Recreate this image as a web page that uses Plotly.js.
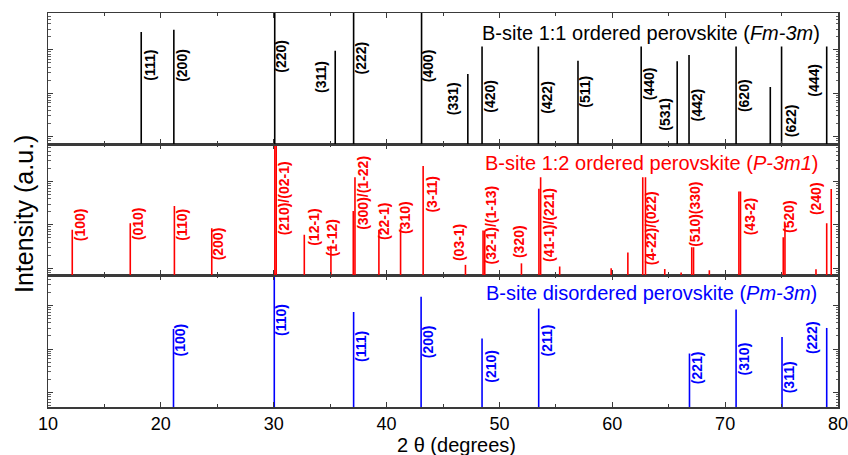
<!DOCTYPE html>
<html><head><meta charset="utf-8">
<script src="https://cdn.plot.ly/plotly-3.0.1.min.js"></script>
<style>html,body{margin:0;padding:0;background:#fff}#chart{width:848px;height:455px}</style>
</head><body><div id="chart"></div>
<script>
// ---------- DATA ----------
// Top panel: B-site 1:1 ordered perovskite (Fm-3m)
const fccPos    = [18.26, 21.15, 30.09, 35.45, 37.08, 43.10, 47.20, 48.46, 53.45, 56.96, 62.56, 65.75, 66.80, 70.97, 74.00, 75.00, 79.00];
const fccInt    = [257, 290, 1000, 95, 1000, 1000, 28, 120, 120, 56, 120, 55, 76, 120, 14, 120, 120];
const fccLabels = ['(111)','(200)','(220)','(311)','(222)','(400)','(331)','(420)','(422)','(511)','(440)','(531)','(442)','(620)','','(622)','(444)'];

// Middle panel: B-site 1:2 ordered perovskite (P-3m1)
const hexPos    = [12.15, 17.29, 21.20, 24.51, 30.10, 30.22, 32.71, 35.07, 37.05, 37.20, 39.32, 41.24, 43.24, 46.99, 48.55, 48.70, 51.95, 53.50, 53.65, 55.34, 59.90, 61.38, 62.70, 62.94, 64.65, 66.10, 67.04, 67.20, 68.60, 71.22, 71.36, 75.15, 75.30, 78.05, 79.00, 79.40];
const hexInt    = [7.7, 11, 27.5, 8.4, 1000, 1000, 5.9, 3.3, 21, 126, 7.7, 8.4, 230, 1.2, 7.4, 7.4, 1.3, 68, 126, 1.1, 1.0, 2.3, 126, 126, 0.96, 0.8, 3.05, 3.05, 0.9, 59, 59, 5.2, 11, 0.95, 11, 67];
const hexLabels = ['(100)','(010)','(110)','(200)','(210)/(02-1)','','(12-1)','(1-12)','','(300)/(1-22)','(22-1)','(310)','(3-11)','(03-1)','','(32-1)/(1-13)','(320)','','(41-1)/(221)','','','','','(4-22)/(022)','','','','(510)(330)','','','(43-2)','','(520)','','(240)',''];

// Bottom panel: B-site disordered perovskite (Pm-3m)
const cubPos    = [21.12, 30.05, 37.08, 43.06, 48.46, 53.48, 66.84, 70.97, 75.04, 79.00];
const cubInt    = [29, 1000, 71, 158, 17.4, 85, 7.9, 81, 19, 30.5];
const cubLabels = ['(100)','(110)','(111)','(200)','(210)','(211)','(221)','(310)','(311)','(222)'];

const xTickVals = [10, 20, 30, 40, 50, 60, 70, 80];

// ---------- LABEL PLACEMENT (pixel offsets / centres, layout only) ----------
const fccLabDx = [8, 8, 6, -14, 7, 6, -15, 8, 8, 7, 8, -12, 8, 8, 0, 9, -13];
const fccLabY  = [65.5, 65, 56, 76.8, 57.8, 65.8, 98.3, 96.7, 97.5, 91.7, 84, 114.5, 105.5, 96, 0, 120.7, 80];
const hexLabDx = [8, 8, 7.4, 6.6, 9.5, 0, 9, 2, 0, 7.4, 5, 4.5, 8.4, -6.4, 0, 6.7, -2.4, 0, 8.3, 0, 0, 0, 0, 5.7, 0, 0, 0, 1.3, 0, 0, 9.8, 0, 4, 0, -10.6, 0];
const hexLabY  = [225, 224, 225, 244, 198, 0, 227.5, 237.5, 0, 192.5, 221, 218, 194, 243, 0, 225, 242, 0, 225, 0, 0, 0, 0, 228, 0, 0, 0, 214, 0, 0, 217, 0, 216, 0, 199, 0];
const cubLabDx = [6.7, 6.7, 7.3, 6.4, 8.7, 8.7, 7.7, 8.3, 7.3, -14.6];
const cubLabY  = [340.3, 320, 346, 341.7, 366, 340, 368, 359, 377, 338];

// ---------- LAYOUT ----------
const FONT = 'Liberation Sans, Arial, sans-serif';
const W = 848, H = 455;
const M = {l: 48, r: 10, t: 13, b: 48};
const PT = M.t, PB = H - M.b, PH = PB - PT;
const py = px => (PB - px) / PH;          // pixel y -> paper y
const AX = '#3a3a3a';

function sticks(pos, inten, color, width, xa, ya) {
  const x = [], y = [];
  pos.forEach((p, i) => { x.push(p, p, null); y.push(0.05, inten[i], null); });
  return {type: 'scatter', mode: 'lines', x, y, xaxis: xa, yaxis: ya,
          line: {color, width}, hoverinfo: 'skip', showlegend: false};
}

function labels(pos, labs, dx, yc, color, xref) {
  const out = [];
  pos.forEach((p, i) => {
    if (!labs[i]) return;
    out.push({x: p, xref, y: py(yc[i]), yref: 'paper', xshift: dx[i],
      text: '<b>' + labs[i] + '</b>', textangle: -90, showarrow: false,
      xanchor: 'center', yanchor: 'middle',
      font: {family: FONT, size: 14, color}});
  });
  return out;
}

const data = [
  sticks(cubPos, cubInt, '#0000ff', 1.6, 'x', 'y'),
  sticks(hexPos, hexInt, '#ff0000', 1.6, 'x2', 'y2'),
  sticks(fccPos, fccInt, '#000000', 1.6, 'x3', 'y3')
];

function xax(anchor, showLabels) {
  return {range: [10, 80], anchor, showline: true, linecolor: AX, linewidth: 1.5,
    mirror: 'ticks', ticks: 'inside', ticklen: 5, tickcolor: AX, tickwidth: 1.2,
    tickmode: 'array', tickvals: xTickVals, showticklabels: showLabels,
    ticklabeloverflow: 'allow',
    minor: {dtick: 5, tick0: 0, ticks: 'inside', ticklen: 3, tickcolor: AX, tickwidth: 1},
    showgrid: false, zeroline: false, fixedrange: true,
    tickfont: {family: FONT, size: 18, color: '#000'}};
}
function yax(domain, range) {
  return {type: 'log', domain, range, anchor: 'x', showline: true, linecolor: AX, linewidth: 1.5,
    mirror: 'ticks', ticks: 'inside', ticklen: 5, tickcolor: AX, tickwidth: 1, dtick: 1,
    minor: {ticks: 'inside', ticklen: 2.5, tickcolor: AX, tickwidth: 0.8, dtick: 'D1'},
    showticklabels: false, showgrid: false, zeroline: false, fixedrange: true};
}

const dBot = [0, py(275)], dMid = [py(275), py(144.3)], dTop = [py(144.3), 1];

const layout = {
  width: W, height: H, margin: M, paper_bgcolor: '#fff', plot_bgcolor: '#fff',
  font: {family: FONT, color: '#000'},
  xaxis: xax('y', true),
  xaxis2: Object.assign(xax('y2', false), {matches: 'x'}),
  xaxis3: Object.assign(xax('y3', false), {matches: 'x'}),
  yaxis: Object.assign(yax(dBot, [-0.33, 2.70]), {anchor: 'x'}),
  yaxis2: Object.assign(yax(dMid, [-0.155, 2.86]), {anchor: 'x2'}),
  yaxis3: Object.assign(yax(dTop, [-0.175, 2.85]), {anchor: 'x3'}),
  annotations: [
    ...labels(fccPos, fccLabels, fccLabDx, fccLabY, '#000000', 'x3'),
    ...labels(hexPos, hexLabels, hexLabDx, hexLabY, '#ff0000', 'x2'),
    ...labels(cubPos, cubLabels, cubLabDx, cubLabY, '#0000ff', 'x'),
    {text: 'B-site 1:1 ordered perovskite (<i>Fm-3m</i>)', xref: 'paper', yref: 'paper',
     x: (822 - M.l) / (W - M.l - M.r), y: py(33), xanchor: 'right', yanchor: 'middle',
     showarrow: false, font: {family: FONT, size: 20, color: '#000'}},
    {text: 'B-site 1:2 ordered perovskite (<i>P-3m1</i>)', xref: 'paper', yref: 'paper',
     x: (820 - M.l) / (W - M.l - M.r), y: py(163), xanchor: 'right', yanchor: 'middle',
     showarrow: false, font: {family: FONT, size: 20, color: '#ff0000'}},
    {text: 'B-site disordered perovskite (<i>Pm-3m</i>)', xref: 'paper', yref: 'paper',
     x: (819 - M.l) / (W - M.l - M.r), y: py(293), xanchor: 'right', yanchor: 'middle',
     showarrow: false, font: {family: FONT, size: 20, color: '#0000ff'}},
    {text: 'Intensity (a.u.)', xref: 'paper', yref: 'paper', textangle: -90,
     x: (24 - M.l) / (W - M.l - M.r), y: py(214), xanchor: 'center', yanchor: 'middle',
     showarrow: false, font: {family: FONT, size: 25, color: '#000'}},
    {text: '2 θ (degrees)', xref: 'paper', yref: 'paper',
     x: (456 - M.l) / (W - M.l - M.r), y: py(445), xanchor: 'center', yanchor: 'middle',
     showarrow: false, font: {family: FONT, size: 20, color: '#000'}}
  ]
};

Plotly.newPlot('chart', data, layout, {staticPlot: true, displayModeBar: false});
</script></body></html>
